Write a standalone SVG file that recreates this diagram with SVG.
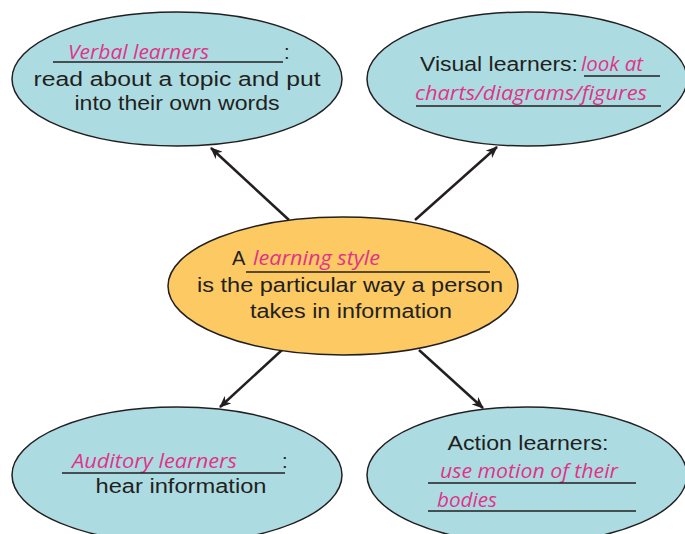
<svg xmlns="http://www.w3.org/2000/svg" width="685" height="534" viewBox="0 0 685 534">
<defs>
<marker id="arr" viewBox="0 0 12 10" refX="11" refY="5" markerWidth="12" markerHeight="10" markerUnits="userSpaceOnUse" orient="auto">
<path d="M0,0 L12,5 L0,10 L3.5,5 z" fill="#231f20"/>
</marker>
<style>
.blue{fill:#acdce2;stroke:#231f20;stroke-width:1.5}
.orange{fill:#fcc963;stroke:#231f20;stroke-width:1.5}
.t{font-family:"Liberation Sans","DejaVu Sans",sans-serif;font-size:20px;fill:#231f20}
.p{font-family:"Open Sans","Noto Sans",sans-serif;font-style:italic;font-size:20px;fill:#e0338a}
.u{stroke:#231f20;stroke-width:1.3}
.c{stroke:#231f20;stroke-width:2.5;fill:none}
</style>
</defs>
<rect width="685" height="534" fill="#ffffff"/>
<g id="connectors">
<line class="c" x1="289" y1="220" x2="211" y2="148" marker-end="url(#arr)"/>
<line class="c" x1="415" y1="220" x2="497" y2="147" marker-end="url(#arr)"/>
<line class="c" x1="282" y1="350" x2="220" y2="407" marker-end="url(#arr)"/>
<line class="c" x1="419" y1="350" x2="483" y2="408" marker-end="url(#arr)"/>
</g>
<g id="verbal">
<ellipse class="blue" cx="177" cy="79" rx="165" ry="67"/>
<text class="p" x="68" y="59" textLength="141" lengthAdjust="spacingAndGlyphs">Verbal learners</text>
<line class="u" x1="53" y1="62" x2="283" y2="62"/>
<text class="t" x="284" y="59">:</text>
<text class="t" x="177" y="86" text-anchor="middle" textLength="287" lengthAdjust="spacingAndGlyphs">read about a topic and put</text>
<text class="t" x="177" y="110" text-anchor="middle" textLength="205" lengthAdjust="spacingAndGlyphs">into their own words</text>
</g>
<g id="visual">
<ellipse class="blue" cx="527" cy="79" rx="160" ry="67"/>
<text class="t" x="420" y="71" textLength="158" lengthAdjust="spacingAndGlyphs">Visual learners:</text>
<text class="p" x="581" y="71" textLength="62" lengthAdjust="spacingAndGlyphs">look at</text>
<line class="u" x1="584" y1="76" x2="660" y2="76"/>
<text class="p" x="415" y="100" textLength="232" lengthAdjust="spacingAndGlyphs">charts/diagrams/figures</text>
<line class="u" x1="416" y1="106" x2="661" y2="106"/>
</g>
<g id="center">
<ellipse class="orange" cx="343" cy="286" rx="175" ry="69"/>
<text class="t" x="232" y="265">A</text>
<text class="p" x="253" y="265" textLength="127" lengthAdjust="spacingAndGlyphs">learning style</text>
<line class="u" x1="246" y1="272" x2="490" y2="272"/>
<text class="t" x="350" y="292" text-anchor="middle" textLength="306" lengthAdjust="spacingAndGlyphs">is the particular way a person</text>
<text class="t" x="351" y="318" text-anchor="middle" textLength="202" lengthAdjust="spacingAndGlyphs">takes in information</text>
</g>
<g id="auditory">
<ellipse class="blue" cx="177" cy="475" rx="165" ry="68"/>
<text class="p" x="72" y="468" textLength="165" lengthAdjust="spacingAndGlyphs">Auditory learners</text>
<line class="u" x1="62" y1="473" x2="285" y2="473"/>
<text class="t" x="282" y="468">:</text>
<text class="t" x="181" y="493" text-anchor="middle" textLength="171" lengthAdjust="spacingAndGlyphs">hear information</text>
</g>
<g id="action">
<ellipse class="blue" cx="527" cy="475" rx="160" ry="68"/>
<text class="t" x="528" y="450" text-anchor="middle" textLength="161" lengthAdjust="spacingAndGlyphs">Action learners:</text>
<text class="p" x="440" y="478" textLength="178" lengthAdjust="spacingAndGlyphs">use motion of their</text>
<line class="u" x1="428" y1="483" x2="636" y2="483"/>
<text class="p" x="437" y="507" textLength="60" lengthAdjust="spacingAndGlyphs">bodies</text>
<line class="u" x1="428" y1="511" x2="636" y2="511"/>
</g>
</svg>
